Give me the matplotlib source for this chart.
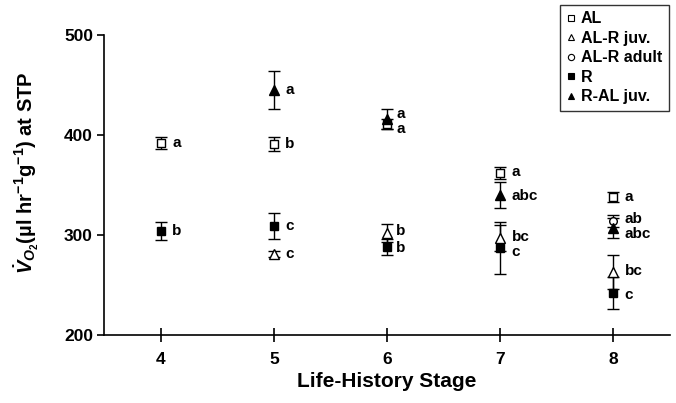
import matplotlib
matplotlib.use("Agg")
import matplotlib.pyplot as plt
from matplotlib.lines import Line2D

plt.rcParams["font.family"] = ["Liberation Sans", "DejaVu Sans"]
plt.rcParams["font.weight"] = "bold"
plt.rcParams["mathtext.fontset"] = "custom"
plt.rcParams["mathtext.rm"] = "Liberation Sans:bold"
plt.rcParams["mathtext.it"] = "Liberation Sans:bold:italic"
plt.rcParams["mathtext.bf"] = "Liberation Sans:bold"

# life-history stage on x, VO2 on y (mean +- error)
al_x = [4, 5, 6, 7, 8]
al_y = [392, 391, 411, 362, 338]
al_err = [6, 7, 5, 6, 5]

alr_juv_x = [5, 6, 7, 8]
alr_juv_y = [281, 302, 297, 263]
alr_juv_err = [3, 9, 13, 17]

alr_adult_x = [8]
alr_adult_y = [314]
alr_adult_err = [6]

r_x = [4, 5, 6, 7, 8]
r_y = [304, 309, 288, 287, 242]
r_err = [9, 13, 8, 26, 16]

ral_juv_x = [5, 6, 7, 8]
ral_juv_y = [445, 416, 340, 307]
ral_juv_err = [19, 10, 13, 10]

# significance letters: stage, value, text
letter_x = [4, 4, 5, 5, 5, 5, 6, 6, 6, 6, 7, 7, 7, 7, 8, 8, 8, 8, 8]
letter_y = [392, 304, 445, 391, 309, 281, 421, 406, 304, 287,
            363, 339, 298, 283, 338, 316, 301, 264, 240]
letter_txt = ["a", "b", "a", "b", "c", "c", "a", "a", "b", "b",
              "a", "abc", "bc", "c", "a", "ab", "abc", "bc", "c"]

series = [
    ("AL", al_x, al_y, al_err, "s", "white", 5.5),
    ("AL-R juv.", alr_juv_x, alr_juv_y, alr_juv_err, "^", "white", 6.5),
    ("AL-R adult", alr_adult_x, alr_adult_y, alr_adult_err, "o", "white", 5.5),
    ("R", r_x, r_y, r_err, "s", "black", 5.5),
    ("R-AL juv.", ral_juv_x, ral_juv_y, ral_juv_err, "^", "black", 6.5),
]

fig = plt.figure(figsize=(6.76, 4.03), dpi=100)
ax = fig.add_axes([0.154, 0.169, 0.837, 0.744])

handles = []
for name, xs, ys, es, mk, fc, ms in series:
    ax.errorbar(xs, ys, yerr=es, fmt=mk, mfc=fc, mec="black", ms=ms,
                mew=1.0, ecolor="black", elinewidth=1.0, capsize=4,
                capthick=1.0, zorder=3)
    handles.append(Line2D([], [], ls="none", marker=mk, mfc=fc, mec="black",
                          ms=4.5, mew=0.8, label=name))

for x, y, t in zip(letter_x, letter_y, letter_txt):
    dx = 0.08 if x == 6 else 0.1
    ax.text(x + dx, y, t, fontsize=11, fontweight="bold", va="center", ha="left")

ax.set_xlim(3.5, 8.5)
ax.set_ylim(200, 500)
ax.set_xticks([4, 5, 6, 7, 8])
ax.set_yticks([200, 300, 400, 500])
ax.spines["top"].set_visible(False)
ax.spines["right"].set_visible(False)
ax.spines["left"].set_linewidth(1.2)
ax.spines["bottom"].set_linewidth(1.2)
ax.tick_params(axis="x", direction="inout", length=10, width=1.2, labelsize=12.5, pad=7)
ax.tick_params(axis="y", direction="out", length=5, width=1.2, labelsize=12.5, pad=3)

ax.set_xlabel("Life-History Stage", fontsize=15, fontweight="bold", labelpad=4)
ax.set_ylabel(r"$\dot{V}_{O_2}$(µl hr$^{-1}$g$^{-1}$) at STP", fontsize=14.5,
              fontweight="bold")
ax.yaxis.set_label_coords(-0.112, 0.54)

leg = ax.legend(handles=handles, loc="upper right", bbox_to_anchor=(0.989, 0.988),
                bbox_transform=fig.transFigure, fontsize=11.5, frameon=True,
                fancybox=False, handlelength=0.5, handletextpad=0.4,
                borderpad=0.4, labelspacing=0.28, borderaxespad=0)
leg.get_frame().set_edgecolor("black")
leg.get_frame().set_linewidth(1.0)
for t in leg.get_texts():
    t.set_fontweight("bold")

fig.savefig("out.png", dpi=100)
